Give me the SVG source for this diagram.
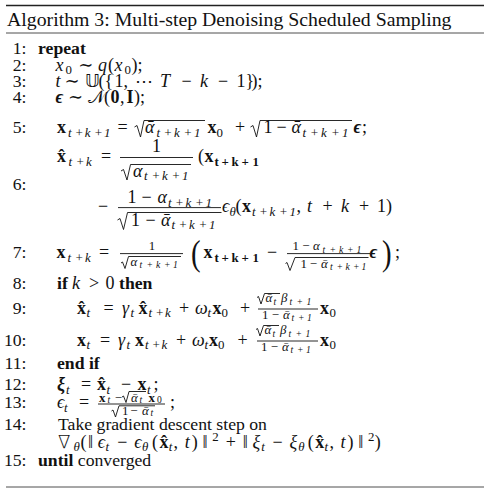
<svg xmlns="http://www.w3.org/2000/svg" width="489" height="492" viewBox="0 0 489 492">
<style>
text{font-family:"Liberation Serif","DejaVu Serif",serif;font-size:18px;fill:#111}
.tx{font-size:17.7px}
.i{font-style:italic}
.b{font-weight:bold}
.bi{font-weight:bold;font-style:italic}
.s{font-size:12.9px}
.ss{font-size:9.6px}
.c{text-anchor:middle}
.n{text-anchor:end;font-size:17.7px}
.ttl{font-size:19.8px}
.big{font-size:37px}
.r{stroke:#111;fill:none;stroke-width:0.9}
.rule{stroke:#222}
.bar{stroke:#111;stroke-width:0.9}
.sym{font-family:"DejaVu Sans","DejaVu Serif",serif}
.nab{font-family:"DejaVu Sans","DejaVu Serif",serif;font-weight:200}
</style>
<rect width="489" height="492" fill="#fff"/>
<g id="rules">
<line class="rule" x1="6" y1="5.5" x2="484" y2="5.5" stroke-width="1.3"/>
<line class="rule" x1="6" y1="33" x2="484" y2="33" stroke-width="0.8"/>
<line class="rule" x1="6" y1="487" x2="484" y2="487" stroke-width="0.8"/>
</g>
<text id="title" class="ttl" x="7" y="26">Algorithm 3: Multi-step Denoising Scheduled Sampling</text>
<g id="numbers">
<text class="n" x="26.5" y="53.5">1:</text>
<text class="n" x="26.5" y="70.5">2:</text>
<text class="n" x="26.5" y="86.5">3:</text>
<text class="n" x="26.5" y="102.5">4:</text>
<text class="n" x="26.5" y="133">5:</text>
<text class="n" x="26.5" y="190">6:</text>
<text class="n" x="26.5" y="258">7:</text>
<text class="n" x="26.5" y="289">8:</text>
<text class="n" x="26.5" y="313.5">9:</text>
<text class="n" x="26.5" y="345.5">10:</text>
<text class="n" x="26.5" y="369">11:</text>
<text class="n" x="26.5" y="390">12:</text>
<text class="n" x="26.5" y="408">13:</text>
<text class="n" x="26.5" y="430">14:</text>
<text class="n" x="26.5" y="465.5">15:</text>
</g>
<g id="line1"><text class="b tx" x="38" y="53.5">repeat</text></g>
<g id="line2"><text>
<tspan class="i" x="55.5" y="70.5">x</tspan><tspan class="s" x="65.5" y="74">0</tspan><tspan class="c" x="85.8" y="70.5">∼</tspan><tspan class="i" x="98" y="70.5">q</tspan><tspan x="108" y="70.5">(</tspan><tspan class="i" x="114.5" y="70.5">x</tspan><tspan class="s" x="124.5" y="74">0</tspan><tspan x="131.5" y="70.5">);</tspan>
</text></g>
<g id="line3"><text>
<tspan class="i" x="55.5" y="86.5">t</tspan><tspan class="c" x="72" y="86.5">∼</tspan><tspan class="sym" x="85" y="86.5">𝕌</tspan><tspan x="98.5" y="86.5">(</tspan><tspan x="104.5" y="86.5">{</tspan><tspan x="114.5" y="86.5">1,</tspan><tspan class="c" x="144" y="86.5">⋯</tspan><tspan class="i" x="160" y="86.5">T</tspan><tspan class="c" x="186.5" y="86.5">−</tspan><tspan class="i" x="200" y="86.5">k</tspan><tspan class="c" x="223" y="86.5">−</tspan><tspan x="236.5" y="86.5">1</tspan><tspan x="245.5" y="86.5">}</tspan><tspan x="251.5" y="86.5">);</tspan>
</text></g>
<g id="line4"><text>
<tspan class="bi" x="55.5" y="102.5">ϵ</tspan><tspan class="c" x="75.5" y="102.5">∼</tspan><tspan class="sym" x="88" y="102.5">𝒩</tspan><tspan x="104" y="102.5">(</tspan><tspan class="b" x="110.5" y="102.5">0</tspan><tspan x="120" y="102.5">,</tspan><tspan class="b" x="126.5" y="102.5">I</tspan><tspan x="134" y="102.5">);</tspan>
</text></g>
<g id="line5">
<path class="r" d="M134.5,127 L137,125.5 L140.5,137 L144,120.5 H205"/>
<path class="r" d="M250.5,127 L253,125.5 L256.5,137 L260,120.5 H352"/>
<text>
<tspan class="b" x="57" y="133">x</tspan><tspan class="s i" x="68 74.8 84.8 93.9 104" y="136.6">t+k+1</tspan><tspan class="c" x="122.5" y="133">=</tspan><tspan class="i" x="145" y="133">ᾱ</tspan><tspan class="s i" x="156.5 163.5 174 183.5 194" y="136.6">t+k+1</tspan><tspan class="b" x="207.5" y="133">x</tspan><tspan class="s" x="216.5" y="136.6">0</tspan><tspan class="c" x="240" y="133">+</tspan><tspan x="263.5" y="133">1</tspan><tspan class="c" x="281.5" y="133">−</tspan><tspan class="i" x="291.5" y="133">ᾱ</tspan><tspan class="s i" x="302.5 310 321 331 342" y="136.6">t+k+1</tspan><tspan class="bi" x="353.5" y="133">ϵ</tspan><tspan x="362" y="133">;</tspan>
</text></g>
<g id="line6">
<line class="bar" x1="120" y1="157.5" x2="193" y2="157.5"/>
<path class="r" d="M121,171 L123.5,169.5 L127,180 L130.5,164.5 H191"/>
<line class="bar" x1="118" y1="207.6" x2="221" y2="207.6"/>
<path class="r" d="M117.5,220 L120,218.5 L123.5,229.5 L127.5,212.5 H221.5"/>
<text>
<tspan class="b" x="57" y="162">x</tspan><tspan class="b c" x="61.5" y="162">ˆ</tspan><tspan class="s i" x="68.5 75.8 86" y="165.6">t+k</tspan><tspan class="c" x="106" y="162">=</tspan><tspan class="c" x="156.5" y="151.5">1</tspan><tspan class="i" x="133" y="176.5">α</tspan><tspan class="s i" x="144 151.5 162 171.5 182" y="180.1">t+k+1</tspan><tspan x="198" y="162">(</tspan><tspan class="b" x="204.5" y="162">x</tspan><tspan class="s b" x="214.5 221.5 231.5 241.5 252.5" y="165.6">t+k+1</tspan>
</text>
<text>
<tspan class="c" x="103" y="212">−</tspan><tspan x="127.5" y="203">1</tspan><tspan class="c" x="146.5" y="203">−</tspan><tspan class="i" x="157.5" y="203">α</tspan><tspan class="s i" x="168 175 185.5 195 205.5" y="206.6">t+k+1</tspan><tspan x="131" y="225.5">1</tspan><tspan class="c" x="150.5" y="225.5">−</tspan><tspan class="i" x="161" y="225.5">ᾱ</tspan><tspan class="s i" x="171.5 178.5 189 198.5 209" y="229.1">t+k+1</tspan><tspan class="i" x="222" y="212">ϵ</tspan><tspan class="s i" x="229.5" y="215.6">θ</tspan><tspan x="235.5" y="212">(</tspan><tspan class="b" x="242" y="212">x</tspan><tspan class="s i" x="252 259 269.5 279 289.5" y="215.6">t+k+1</tspan><tspan x="296.5" y="212">,</tspan><tspan class="i" x="307" y="212">t</tspan><tspan class="c" x="327.5" y="212">+</tspan><tspan class="i" x="341" y="212">k</tspan><tspan class="c" x="364" y="212">+</tspan><tspan x="377" y="212">1</tspan><tspan x="386" y="212">)</tspan>
</text></g>
<g id="line7">
<line class="bar" x1="120" y1="253.6" x2="183" y2="253.6"/>
<path class="r" d="M121,263 L122.5,262 L125,268.5 L128.5,256.5 H181"/>
<line class="bar" x1="287" y1="253.6" x2="370" y2="253.6"/>
<path class="r" d="M285.5,263.5 L287,262.5 L290,270.5 L295,257.5 H368.5"/>
<text class="big" transform="translate(191,265) scale(0.78,0.95)">(</text>
<text class="big" transform="translate(382,265) scale(0.78,0.95)">)</text>
<text>
<tspan class="b" x="56.5" y="258">x</tspan><tspan class="s i" x="67.5 74.8 85" y="261.6">t+k</tspan><tspan class="c" x="104" y="258">=</tspan><tspan class="s c" x="152" y="249.5">1</tspan><tspan class="s i" x="130.5" y="266">α</tspan><tspan class="ss i" x="139.5 146.5 156 164 173" y="268.3">t+k+1</tspan><tspan class="b" x="203.5" y="258">x</tspan><tspan class="s b" x="214.5 221.5 231.5 241.5 252.5" y="261.6">t+k+1</tspan><tspan class="c" x="272" y="258">−</tspan><tspan class="s" x="292.5" y="250">1</tspan><tspan class="s c" x="306" y="250">−</tspan><tspan class="s i" x="313" y="250">α</tspan><tspan class="ss i" x="322.5 329.5 339 347 356.5" y="252.5">t+k+1</tspan><tspan class="s" x="300.5" y="267.5">1</tspan><tspan class="s c" x="313.5" y="267.5">−</tspan><tspan class="s i" x="321" y="267.5">ᾱ</tspan><tspan class="ss i" x="330 336.5 345.5 353 361.5" y="270">t+k+1</tspan><tspan class="bi" x="369.5" y="258">ϵ</tspan><tspan x="395" y="258">;</tspan>
</text></g>
<g id="line8"><text>
<tspan class="b tx" x="57" y="289">if</tspan><tspan class="i" x="72" y="289">k</tspan><tspan class="c" x="94" y="289">&gt;</tspan><tspan x="105.5" y="289">0</tspan><tspan class="b tx" x="119" y="289">then</tspan>
</text></g>
<g id="line9">
<line class="bar" x1="258" y1="309" x2="318" y2="309"/>
<path class="r" d="M257,297.5 L258.5,296.5 L261,304 L264.5,293.5 H280"/>
<text>
<tspan class="b" x="77" y="313.5">x</tspan><tspan class="b c" x="81.5" y="313.5">ˆ</tspan><tspan class="s i" x="86.5" y="317.1">t</tspan><tspan class="c" x="108.5" y="313.5">=</tspan><tspan class="i" x="122" y="313.5">γ</tspan><tspan class="s i" x="130.5" y="317.1">t</tspan><tspan class="b" x="138.5" y="313.5">x</tspan><tspan class="b c" x="143" y="313.5">ˆ</tspan><tspan class="s i" x="148.5 155.3 165" y="317.1">t+k</tspan><tspan class="c" x="184" y="313.5">+</tspan><tspan class="i" x="195" y="313.5">ω</tspan><tspan class="s i" x="207.5" y="317.1">t</tspan><tspan class="b" x="212.5" y="313.5">x</tspan><tspan class="s" x="221.5" y="317.1">0</tspan><tspan class="c" x="245" y="313.5">+</tspan><tspan class="s i" x="265.5" y="302">ᾱ</tspan><tspan class="ss i" x="273.5" y="304.5">t</tspan><tspan class="s i" x="281" y="302">β</tspan><tspan class="ss i" x="289.5 296.5 306.5" y="304.5">t+1</tspan><tspan class="s" x="262" y="318.5">1</tspan><tspan class="s c" x="275.5" y="318.5">−</tspan><tspan class="s i" x="283" y="318.5">ᾱ</tspan><tspan class="ss i" x="291.5 298 307" y="321">t+1</tspan><tspan class="b" x="320" y="313.5">x</tspan><tspan class="s" x="329.5" y="317.1">0</tspan>
</text></g>
<g id="line10">
<line class="bar" x1="257" y1="341" x2="318" y2="341"/>
<path class="r" d="M256,329.5 L257.5,328.5 L260,336 L263.5,325.5 H279"/>
<text>
<tspan class="b" x="77" y="345.5">x</tspan><tspan class="s i" x="86.5" y="349.1">t</tspan><tspan class="c" x="105" y="345.5">=</tspan><tspan class="i" x="118" y="345.5">γ</tspan><tspan class="s i" x="126.5" y="349.1">t</tspan><tspan class="b" x="135" y="345.5">x</tspan><tspan class="s i" x="145 151.8 161.5" y="349.1">t+k</tspan><tspan class="c" x="181" y="345.5">+</tspan><tspan class="i" x="192" y="345.5">ω</tspan><tspan class="s i" x="204.5" y="349.1">t</tspan><tspan class="b" x="209" y="345.5">x</tspan><tspan class="s" x="218" y="349.1">0</tspan><tspan class="c" x="242.5" y="345.5">+</tspan><tspan class="s i" x="264.5" y="334">ᾱ</tspan><tspan class="ss i" x="272.5" y="336.5">t</tspan><tspan class="s i" x="280" y="334">β</tspan><tspan class="ss i" x="288.5 295.5 305.5" y="336.5">t+1</tspan><tspan class="s" x="261" y="350.5">1</tspan><tspan class="s c" x="274.5" y="350.5">−</tspan><tspan class="s i" x="282" y="350.5">ᾱ</tspan><tspan class="ss i" x="290.5 297 306" y="353">t+1</tspan><tspan class="b" x="320" y="345.5">x</tspan><tspan class="s" x="329.5" y="349.1">0</tspan>
</text></g>
<g id="line11"><text class="b tx" x="57" y="369">end if</text></g>
<g id="line12"><text>
<tspan class="bi" x="57" y="390">ξ</tspan><tspan class="s i" x="66" y="393.6">t</tspan><tspan class="c" x="86" y="390">=</tspan><tspan class="b" x="97" y="390">x</tspan><tspan class="b c" x="101.5" y="390">ˆ</tspan><tspan class="s i" x="106.5" y="393.6">t</tspan><tspan class="c" x="126" y="390">−</tspan><tspan class="b" x="137.5" y="390">x</tspan><tspan class="s i" x="147" y="393.6">t</tspan><tspan x="153.5" y="390">;</tspan>
</text></g>
<g id="line13">
<line class="bar" x1="98" y1="404" x2="165" y2="404"/>
<path class="r" d="M122,397 L123.5,396 L126,402.5 L129,391.5 H146"/>
<path class="r" d="M111.5,411 L113,410 L115.5,417 L119,405.8 H155"/>
<text>
<tspan class="i" x="57" y="408">ϵ</tspan><tspan class="s i" x="64" y="411.6">t</tspan><tspan class="c" x="84" y="408">=</tspan><tspan class="s b" x="99" y="401.5">x</tspan><tspan class="ss i" x="107.5" y="403.2">t</tspan><tspan class="s c" x="118.5" y="401.5">−</tspan><tspan class="s i" x="131" y="401.5">ᾱ</tspan><tspan class="ss i" x="139.5" y="403.2">t</tspan><tspan class="s b" x="148.5" y="401.5">x</tspan><tspan class="ss" x="157" y="403.2">0</tspan><tspan class="s" x="122" y="414.5">1</tspan><tspan class="s c" x="134" y="414.5">−</tspan><tspan class="s i" x="142" y="414.5">ᾱ</tspan><tspan class="ss i" x="150.5" y="416.3">t</tspan><tspan x="170" y="408">;</tspan>
</text></g>
<g id="line14">
<text class="tx" x="58" y="430">Take gradient descent step on</text>
<text>
<tspan class="nab" x="58" y="447.5">∇</tspan><tspan class="s i" x="73.5" y="451.1">θ</tspan><tspan x="80.6" y="447.5">(</tspan><tspan x="88" y="447.5">‖</tspan><tspan class="i" x="97.8" y="447.5">ϵ</tspan><tspan class="s i" x="105.5" y="451.1">t</tspan><tspan class="c" x="122.4" y="447.5">−</tspan><tspan class="i" x="134.3" y="447.5">ϵ</tspan><tspan class="s i" x="142" y="451.1">θ</tspan><tspan x="151.9" y="447.5">(</tspan><tspan class="b" x="159.4" y="447.5">x</tspan><tspan class="b c" x="163.9" y="447.5">ˆ</tspan><tspan class="s i" x="168.8" y="451.1">t</tspan><tspan x="173.5" y="447.5">,</tspan><tspan class="i" x="184.7" y="447.5">t</tspan><tspan x="191.7" y="447.5">)</tspan><tspan x="202.5" y="447.5">‖</tspan><tspan class="s" x="212.2" y="440.5">2</tspan><tspan class="c" x="230.9" y="447.5">+</tspan><tspan x="242.7" y="447.5">‖</tspan><tspan class="i" x="252.4" y="447.5">ξ</tspan><tspan class="s i" x="261.2" y="451.1">t</tspan><tspan class="c" x="277.7" y="447.5">−</tspan><tspan class="i" x="289.5" y="447.5">ξ</tspan><tspan class="s i" x="298.3" y="451.1">θ</tspan><tspan x="307.7" y="447.5">(</tspan><tspan class="b" x="315.2" y="447.5">x</tspan><tspan class="b c" x="319.7" y="447.5">ˆ</tspan><tspan class="s i" x="324.6" y="451.1">t</tspan><tspan x="329.5" y="447.5">,</tspan><tspan class="i" x="340.5" y="447.5">t</tspan><tspan x="347.5" y="447.5">)</tspan><tspan x="358.3" y="447.5">‖</tspan><tspan class="s" x="368" y="440.5">2</tspan><tspan x="374.8" y="447.5">)</tspan>
</text></g>
<g id="line15"><text class="tx" x="38" y="465.5"><tspan class="b">until</tspan> converged</text></g>
</svg>
